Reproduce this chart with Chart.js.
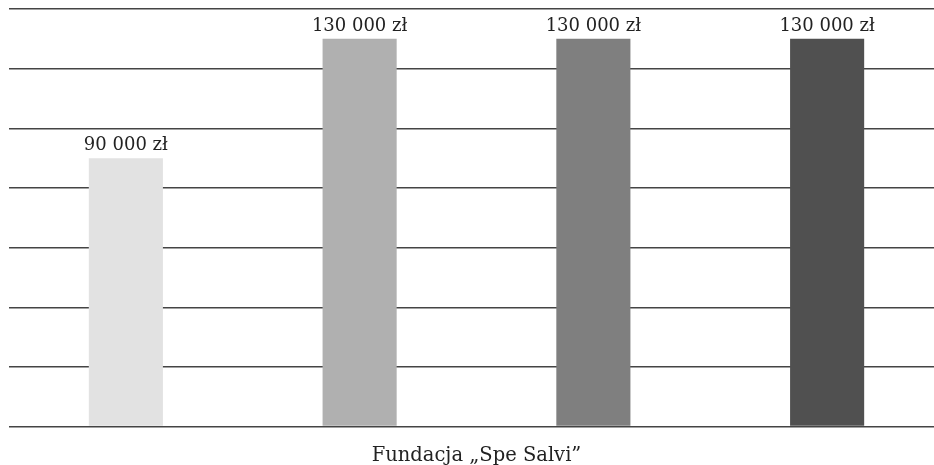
<!DOCTYPE html>
<html>
<head>
<meta charset="utf-8">
<script src="https://cdn.jsdelivr.net/npm/chart.js@4"></script>
<style>
  html, body { margin: 0; padding: 0; background: #fff; overflow: hidden; }
  #wrap { position: relative; width: 944px; height: 486px; }
</style>
</head>
<body>
<div id="wrap"><canvas id="myChart"></canvas></div>
<script>
var categories = ['Fundacja \u201ESpe Salvi\u201D'];
var seriesNames = ['Seria 1', 'Seria 2', 'Seria 3', 'Seria 4'];
var seriesValues = [[90000], [130000], [130000], [130000]];
var seriesColors = ['#e2e2e2', '#b0b0b0', '#7f7f7f', '#505050'];

var FONT = '"DejaVu Serif", "Liberation Serif", serif';

function formatZl(v) {
    return String(v).replace(/\B(?=(\d{3})+(?!\d))/g, ' ') + ' z\u0142';
}

// labels over the bars
var valueLabels = {
    id: 'valueLabels',
    afterDatasetsDraw: function(chart) {
        var ctx = chart.ctx;
        ctx.save();
        ctx.font = '18px ' + FONT;
        ctx.fillStyle = '#222';
        ctx.textAlign = 'center';
        ctx.textBaseline = 'bottom';
        chart.data.datasets.forEach(function(ds, i) {
            chart.getDatasetMeta(i).data.forEach(function(bar, j) {
                ctx.fillText(formatZl(ds.data[j]), bar.x, bar.y - 4);
            });
        });
        ctx.restore();
    }
};

var ctx = document.querySelector('#myChart').getContext('2d');
var myChart = new Chart(ctx, {
    type: 'bar',
    data: {
        labels: categories,
        datasets: seriesNames.map(function(name, i) {
            return {
                label: name,
                data: seriesValues[i],
                backgroundColor: seriesColors[i],
                barPercentage: 0.317,
                categoryPercentage: 1.0
            };
        })
    },
    options: {
        responsive: true,
        maintainAspectRatio: false,
        animation: false,
        layout: { padding: { left: 9, top: 9, right: 0, bottom: 0 } },
        plugins: {
            legend: { display: false },
            tooltip: { enabled: false }
        },
        scales: {
            x: {
                grid: { display: false, drawTicks: false },
                border: { display: false },
                ticks: {
                    color: '#222',
                    padding: 18,
                    font: { family: FONT, size: 19.5 }
                }
            },
            y: {
                min: 0,
                max: 140000,
                ticks: { stepSize: 20000, display: false },
                grid: { color: '#444', lineWidth: 1.5, drawTicks: false },
                border: { display: false }
            }
        }
    },
    plugins: [valueLabels]
});
</script>
</body>
</html>
